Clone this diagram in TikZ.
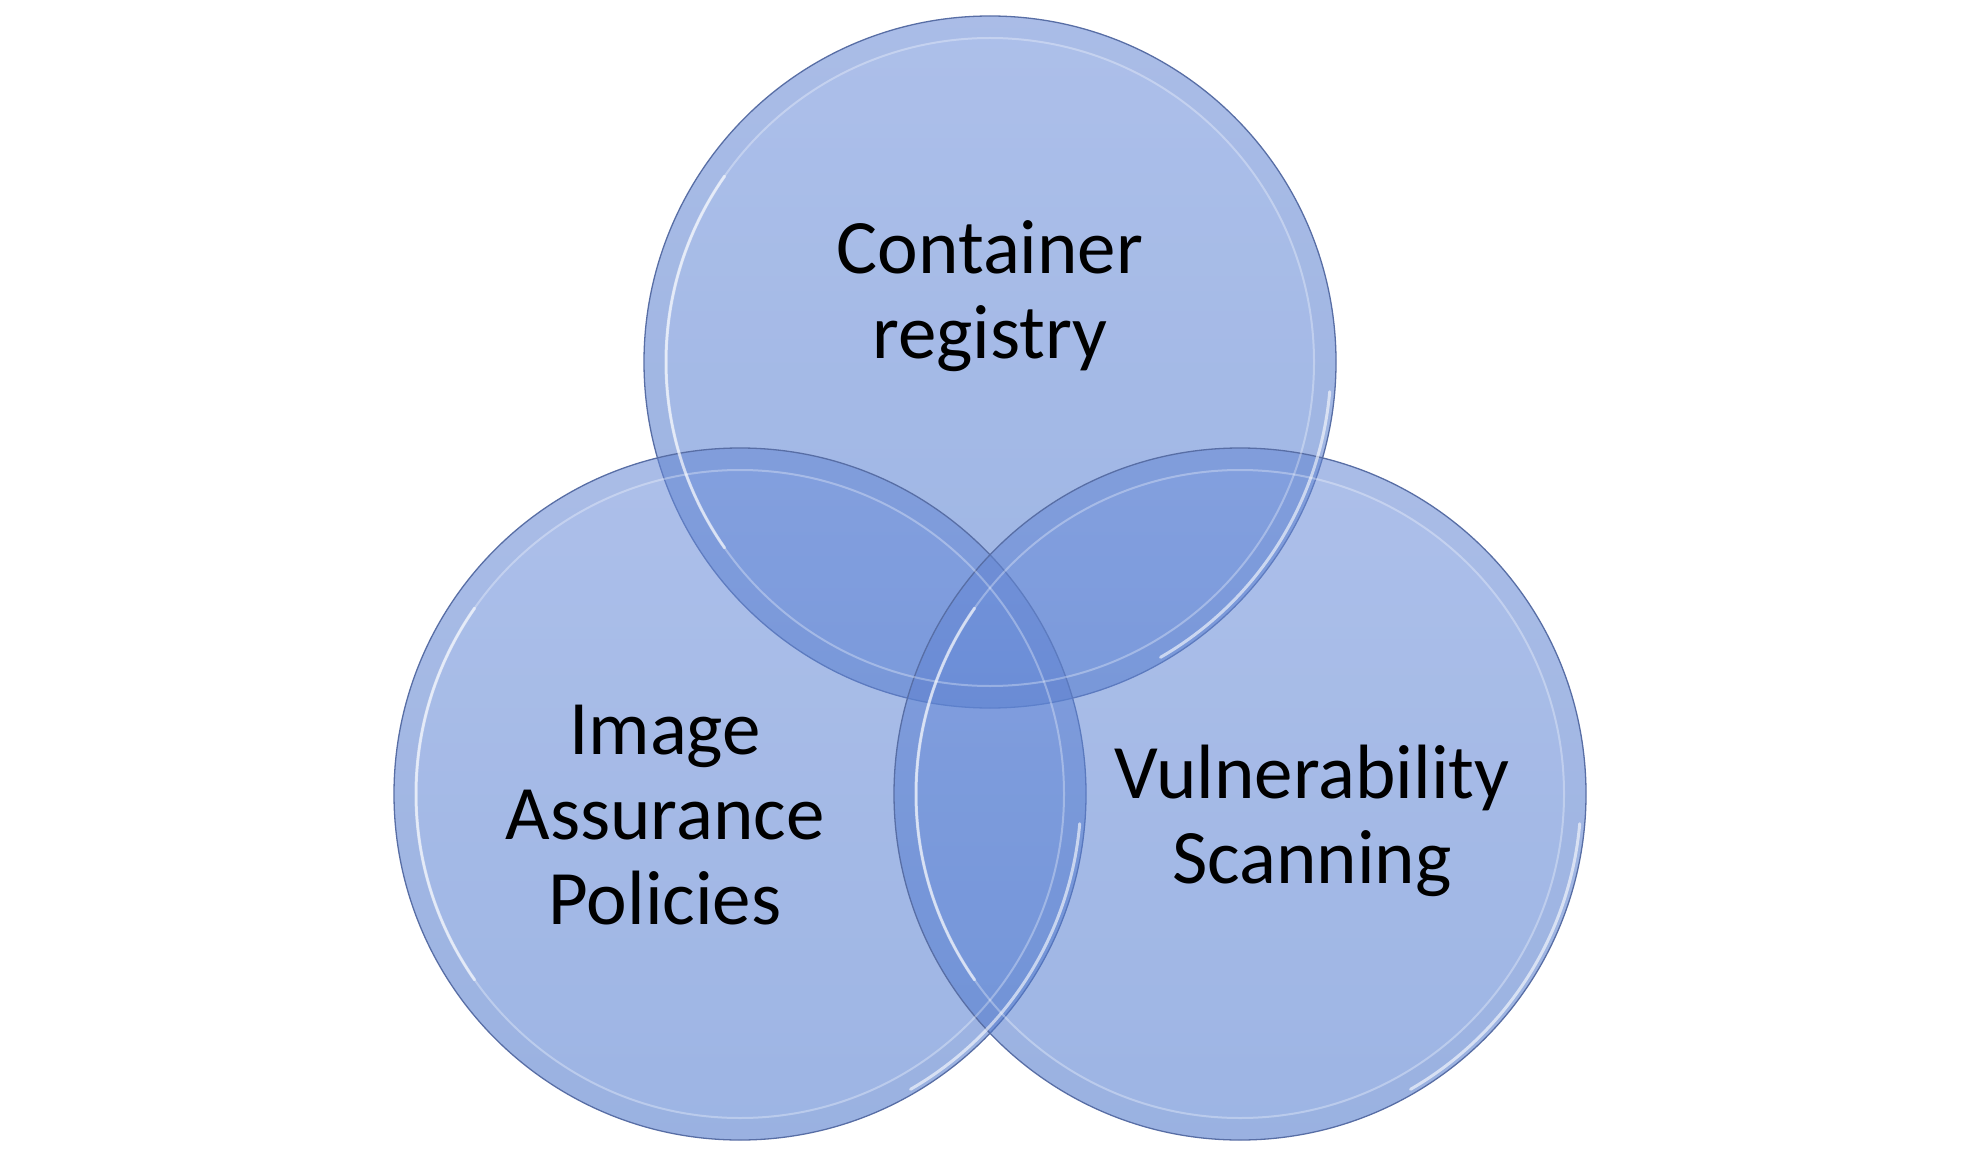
\documentclass[tikz,border=0pt]{standalone}
\usepackage{fontspec}
\setmainfont{Carlito}
\usepackage{tikz}
\usepackage{xcolor}

\definecolor{venntop}{RGB}{106,140,217}
\definecolor{vennbot}{RGB}{77,120,206}
\definecolor{vennedge}{RGB}{88,110,165}

\begin{document}
\begin{tikzpicture}[x=1pt,y=-1pt,
        venn/.style={circle,minimum size=692pt,inner sep=0pt,draw=vennedge,line width=1.3pt,
          top color=venntop,bottom color=vennbot,fill opacity=0.55},
        bevelring/.style={draw=white,line width=2pt,draw opacity=0.3},
        bevelband/.style={draw=vennedge,line width=20pt,draw opacity=0.035},
        hilite/.style={draw=white,line width=3pt,draw opacity=0.6,line cap=round},
        venntext/.style={font=\fontsize{77}{85}\selectfont,align=center,text=black}]
        \fill[white] (0,0) rectangle (1980,1155);
        \useasboundingbox (0,0) rectangle (1980,1155);
        % the three circles
        \node[venn] (reg) at (990,362) {};
        \node[venn] (img) at (740,794) {};
        \node[venn] (vul) at (1240,794) {};
        \foreach \c in {reg,img,vul}
        {
        \draw[bevelband] (\c.center) circle (335);
        \draw[bevelring] (\c.center) circle (324);
        \draw[hilite] ([shift={(145:324)}]\c.center) arc[start angle=145,end angle=215,radius=324];
        \draw[hilite] ([shift={(5:341)}]\c.center) arc[start angle=5,end angle=60,radius=341];
        }
        % labels
        \node[venntext] (regtext) at (990,296) {Container\\registry};
        \node[venntext] (imgtext) at (665,815) {Image\\Assurance\\Policies};
        \node[venntext] (vultext) at (1312,821) {Vulnerability\\Scanning};
\end{tikzpicture}
\end{document}
